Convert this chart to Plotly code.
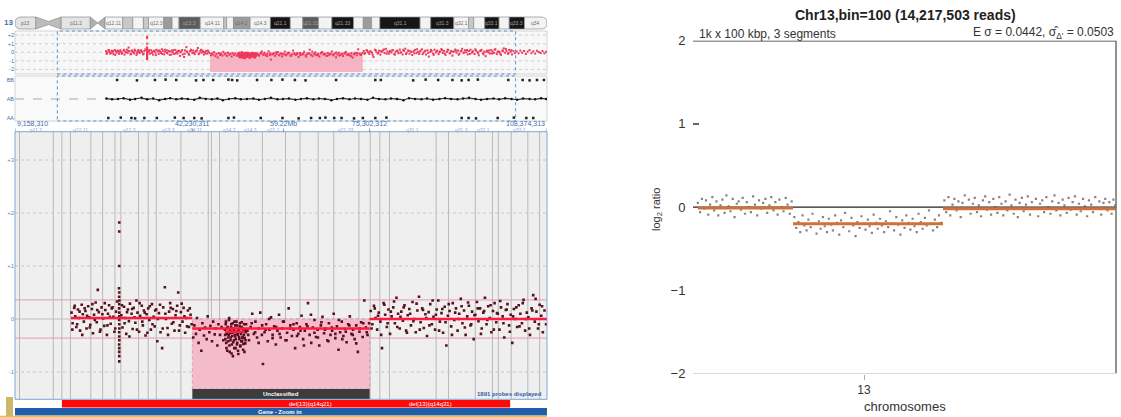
import plotly.graph_objects as go

W, H = 1121, 417


def fx(p):
    return p / W


def fy(p):
    return 1 - p / H


# ---------------- data ----------------
# chromosome 13 cytobands (Mb) and stains
band_name = ["p13", "p12", "p11.2", "p11.1", "q11", "q12.11", "q12.12", "q12.13", "q12.2", "q12.3",
             "q13.1", "q13.2", "q13.3", "q14.11", "q14.12", "q14.13", "q14.2", "q14.3", "q21.1", "q21.2",
             "q21.31", "q21.32", "q21.33", "q22.1", "q22.2", "q22.3", "q31.1", "q31.2", "q31.3", "q32.1",
             "q32.2", "q32.3", "q33.1", "q33.2", "q33.3", "q34"]
band_start = [0.0, 4.5, 10.0, 16.3, 17.9, 19.5, 23.3, 25.5, 27.8, 28.9, 32.2, 34.0, 35.5, 40.1, 45.2, 45.8,
              47.3, 50.9, 55.3, 59.6, 62.3, 65.7, 68.6, 73.3, 75.4, 77.2, 79.0, 87.7, 90.0, 95.0, 98.2, 99.3,
              101.7, 104.8, 107.0, 110.3]
band_end = [4.5, 10.0, 16.3, 17.9, 19.5, 23.3, 25.5, 27.8, 28.9, 32.2, 34.0, 35.5, 40.1, 45.2, 45.8, 47.3,
            50.9, 55.3, 59.6, 62.3, 65.7, 68.6, 73.3, 75.4, 77.2, 79.0, 87.7, 90.0, 95.0, 98.2, 99.3, 101.7,
            104.8, 107.0, 110.3, 115.17]
band_stain = ["gvar", "stalk", "gvar", "acen", "acen", "gneg", "gpos25", "gneg", "gpos25", "gneg",
              "gpos50", "gneg", "gpos75", "gneg", "gpos25", "gneg", "gpos50", "gneg", "gpos100", "gneg",
              "gpos75", "gneg", "gpos100", "gneg", "gpos50", "gneg", "gpos100", "gneg", "gpos100", "gneg",
              "gpos25", "gneg", "gpos100", "gneg", "gpos100", "gneg"]

# zoomed view range (Mb) and ruler labels
view_start, view_end = 9.158310, 108.374313
ruler_pos = [9.158310, 42.230311, 59.22, 75.302312, 108.374313]
ruler_text = ["9,158,310", "42,230,311", "59.22Mb", "75,302,312", "108,374,313"]
ruler_band_pos = [13.15, 21.4, 30.55, 37.8, 42.65, 49.1, 53.1, 57.45, 70.95, 83.35, 92.5, 96.6, 103.25]
ruler_band_txt = ["p11.2", "q12.11", "q12.3", "q13.3", "q14.11", "q14.2", "q14.3", "q21.1", "q21.33",
                  "q31.1", "q31.3", "q32.1", "q33.1"]

# array probes: position (Mb) and log ratio
seg1_pos = [19.7, 19.9, 20.2, 20.4, 20.6, 20.9, 21.1, 21.3, 21.6, 21.8, 22.0, 22.3, 22.5, 22.8, 23.0, 23.2,
            23.5, 23.7, 23.9, 24.2, 24.4, 24.6, 24.8, 25.1, 25.3, 25.6, 25.8, 26.0, 26.3, 26.5, 26.7, 27.0,
            27.2, 27.5, 27.7, 28.0, 28.2,
            29.0, 29.2, 29.5, 29.7, 29.9, 30.2, 30.4, 30.6, 30.9, 31.1, 31.3, 31.6, 31.8, 32.0, 32.3, 32.5,
            32.8, 33.0, 33.2, 33.5, 33.7, 34.0, 34.2, 34.5, 34.7, 35.0, 35.2, 35.5, 35.7, 36.0, 36.3, 36.6,
            36.8, 37.1, 37.3, 37.6, 37.9, 38.1, 38.4, 38.6, 38.9, 39.1, 39.4, 39.6, 39.9, 40.1, 40.4, 40.6,
            40.9, 41.1, 41.4, 41.6, 41.9, 42.1]
seg1_lr = [0.12, -0.08, 0.21, 0.05, -0.15, 0.18, 0.02, -0.22, 0.27, 0.09, -0.05, 0.15, -0.18, 0.24, 0.03,
           -0.11, 0.19, -0.27, 0.08, 0.31, -0.06, 0.55, 0.13, -0.2, 0.22, 0.01, -0.13, 0.17, -0.3, 0.1, 0.26,
           -0.09, 0.2, 0.04, -0.24, 0.14, 0.33,
           0.07, -0.16, 0.23, 0.02, -0.28, 0.18, -0.04, 0.29, 0.1, -0.19, 0.21, -0.07, 0.35, 0.12, -0.24,
           0.06, 0.25, -0.12, 0.16, -0.31, 0.09, 0.2, -0.02, -0.2, 0.28, 0.04, -0.14, 0.18, -0.42, 0.11,
           -0.25, -0.55, 0.22, 0.6, 0.0, -0.17, 0.14, 0.3, -0.09, 0.19, -0.22, 0.07, 0.25, 0.5, -0.12, 0.13,
           -0.05, 0.21, -0.26, 0.02, 0.16, -0.15, 0.08, -0.1]
seg1b_pos = [19.85, 20.3, 20.75, 21.2, 21.7, 22.15, 22.6, 23.1, 23.6, 24.05, 24.5, 25.0, 25.45, 25.9, 26.4,
             26.85, 27.35, 27.85, 29.1, 29.6, 30.05, 30.5, 31.0, 31.45, 31.9, 32.4, 32.9, 33.35, 33.85, 34.3,
             34.8, 35.3, 35.8, 36.2, 36.7, 37.2, 37.7, 38.2, 38.7, 39.25, 39.75, 40.25, 40.75, 41.25, 41.75]
seg1b_lr = [-0.2, 0.25, -0.1, 0.14, -0.3, 0.2, 0.06, -0.16, 0.28, -0.02, 0.17, -0.24, 0.09, 0.3, -0.12,
            0.04, 0.22, -0.18, 0.26, -0.08, 0.13, -0.33, 0.19, 0.03, -0.2, 0.3, -0.05, 0.12, -0.26, 0.24,
            -0.1, 0.16, 0.0, 0.27, -0.18, 0.1, -0.3, 0.21, -0.06, 0.15, -0.22, 0.29, 0.05, -0.14, 0.2]
spike_pos = [28.55, 28.6, 28.58, 28.62, 28.6, 28.57, 28.61, 28.6, 28.59, 28.6, 28.62, 28.58, 28.6, 28.61,
             28.57, 28.6, 28.59, 28.6, 28.6, 28.6, 28.6, 28.6]
spike_lr = [0.58, 0.5, 0.42, 0.35, 0.28, 0.2, 0.12, 0.05, -0.02, -0.1, -0.18, -0.25, -0.33, -0.4, -0.48,
            -0.55, -0.62, -0.7, -0.8, 1.0, 1.65, 1.82]
seg2_pos = [42.4, 42.6, 42.9, 43.1, 43.4, 43.6, 43.9, 44.1, 44.4, 44.6, 44.9, 45.1, 45.4, 45.6, 45.9, 46.1,
            46.4, 46.6, 46.9, 47.1, 47.4, 47.7, 48.0]
seg2_lr = [-0.35, -0.12, -0.28, 0.02, -0.45, -0.2, -0.6, -0.08, -0.31, -0.16, -0.38, 0.05, -0.25, -0.13,
           -0.42, -0.05, -0.29, -0.18, -0.5, -0.1, -0.3, -0.15, -0.4]
cluster_pos = [48.3, 48.4, 48.5, 48.6, 48.7, 48.8, 48.9, 49.0, 49.1, 49.2, 49.3, 49.4, 49.5, 49.6, 49.7,
               49.8, 49.9, 50.0, 50.1, 50.2, 50.3, 50.4, 50.5, 50.6, 50.7, 50.8, 50.9, 51.0, 51.1, 51.2,
               51.3, 51.4, 51.5, 51.6, 51.7, 51.8, 51.9, 52.0, 52.1, 52.2]
cluster_lr = [-0.2, -0.38, -0.05, -0.55, -0.28, -0.15, -0.42, -0.3, 0.02, -0.62, -0.22, -0.35, -0.1, -0.48,
              -0.26, -0.7, -0.18, -0.4, -0.05, -0.33, -0.55, -0.24, -0.12, -0.45, -0.3, -0.66, -0.2, -0.38,
              -0.08, -0.5, -0.28, -0.15, -0.42, -0.34, -0.58, -0.22, -0.1, -0.36, -0.46, -0.25]
cluster2_pos = [48.35, 48.45, 48.55, 48.65, 48.75, 48.85, 48.95, 49.05, 49.15, 49.25, 49.35, 49.45, 49.55,
                49.65, 49.75, 49.85, 49.95, 50.05, 50.15, 50.25, 50.35, 50.45, 50.55, 50.65, 50.75, 50.85,
                50.95, 51.05, 51.15, 51.25, 51.35, 51.45, 51.55, 51.65, 51.75, 51.85, 51.95, 52.05, 52.15,
                52.25]
cluster2_lr = [-0.3, -0.1, -0.45, -0.25, -0.6, -0.18, -0.35, -0.02, -0.5, -0.27, -0.4, -0.15, -0.65, -0.32,
               -0.08, -0.44, -0.22, -0.55, -0.3, -0.12, -0.38, -0.05, -0.48, -0.28, -0.6, -0.2, -0.34,
               -0.14, -0.52, -0.25, -0.42, -0.06, -0.36, -0.18, -0.47, -0.3, -0.62, -0.2, -0.4, -0.1]
seg2b_pos = [52.5, 52.8, 53.1, 53.4, 53.7, 54.0, 54.3, 54.6, 54.9, 55.2, 55.4, 55.7, 56.0, 56.3, 56.6, 56.9,
             57.2, 57.5, 57.8, 58.1, 58.4, 58.7, 59.0, 59.3, 59.6, 59.9, 60.2, 60.5, 60.8, 61.1, 61.4, 61.7,
             62.0, 62.3, 62.6, 62.9, 63.2, 63.5, 63.8, 64.1, 64.4, 64.7, 65.0, 65.3, 65.6, 65.9, 66.2, 66.5,
             66.8, 67.1, 67.4, 67.7, 68.0, 68.3, 68.6, 68.9, 69.2, 69.5, 69.8, 70.1, 70.4, 70.7, 71.0, 71.3,
             71.6, 71.9, 72.2, 72.5, 72.8, 73.1, 73.4, 73.7, 74.0, 74.3, 74.6, 74.9, 75.2]
seg2b_lr = [-0.22, -0.4, -0.15, 0.1, -0.28, -0.05, -0.35, -0.18, 0.12, -0.3, -0.85, -0.25, -0.1, -0.42,
            -0.2, 0.03, -0.3, -0.14, -0.48, -0.22, 0.08, -0.35, -0.18, -0.05, -0.4, -0.26, 0.2, -0.12,
            -0.32, -0.2, -0.55, -0.08, -0.28, -0.15, 0.06, -0.38, -0.22, -0.1, 0.3, -0.3, -0.45, -0.16,
            -0.02, -0.34, -0.2, -0.5, -0.12, 0.04, -0.27, -0.18, -0.4, -0.08, -0.3, -0.22, 0.1, -0.36,
            -0.14, -0.58, -0.25, -0.05, -0.32, -0.19, -0.44, -0.1, 0.05, -0.28, -0.2, -0.38, -0.12, -0.62,
            -0.24, -0.06, -0.34, 0.35, -0.16, -0.3, -0.08]
seg2c_pos = [52.65, 53.3, 53.95, 54.6, 55.25, 55.9, 56.55, 57.2, 57.85, 58.5, 59.15, 59.8, 60.45, 61.1,
             61.75, 62.4, 63.05, 63.7, 64.35, 65.0, 65.65, 66.3, 66.95, 67.6, 68.25, 68.9, 69.55, 70.2,
             70.85, 71.5, 72.15, 72.8, 73.45, 74.1, 74.75]
seg2c_lr = [-0.3, -0.08, -0.25, -0.45, -0.12, -0.2, 0.0, -0.36, -0.15, -0.28, -0.05, -0.4, -0.18, -0.1,
            -0.32, -0.22, -0.5, -0.14, 0.08, -0.26, -0.35, -0.06, -0.2, -0.42, -0.16, -0.28, -0.02, -0.38,
            -0.24, -0.12, -0.3, -0.46, -0.18, -0.08, -0.25]
seg3_pos = [75.5, 75.8, 76.1, 76.4, 76.7, 77.0, 77.3, 77.6, 77.9, 78.2, 78.5, 78.8, 79.1, 79.4, 79.7, 80.0,
            80.3, 80.6, 80.9, 81.2, 81.5, 81.8, 82.1, 82.4, 82.7, 83.0, 83.3, 83.6, 83.9, 84.2, 84.5, 84.8,
            85.1, 85.4, 85.7, 86.0, 86.3, 86.6, 86.9, 87.2, 87.5, 87.8, 88.1, 88.4, 88.7, 89.0, 89.3, 89.6,
            89.9, 90.2, 90.5, 90.8, 91.1, 91.4, 91.7, 92.0, 92.3, 92.6, 92.9, 93.2, 93.5, 93.8, 94.1, 94.4,
            94.7, 95.0, 95.3, 95.6, 95.9, 96.2, 96.5, 96.8, 97.1, 97.4, 97.7, 98.0, 98.3, 98.6, 98.9, 99.2,
            99.5, 99.8, 100.1, 100.4, 100.7, 101.0, 101.3, 101.6, 101.9, 102.2, 102.5, 102.8, 103.1, 103.4,
            103.7, 104.0, 104.3, 104.6, 104.9, 105.2, 105.5, 105.8, 106.1, 106.4, 106.7, 107.0, 107.3,
            107.6, 107.9, 108.2]
seg3_lr = [0.15, -0.1, 0.25, 0.02, -0.2, 0.12, -0.05, -0.55, 0.3, 0.08,
           -0.15, 0.18, -0.28, 0.05, 0.22, -0.08, 0.4, 0.1, -0.18, 0.14,
           -0.03, 0.26, -0.22, 0.07, 0.19, -0.12, 0.32, 0.0, -0.25, 0.16,
           0.42, -0.06, 0.2, -0.17, 0.09, -0.32, 0.13, 0.28, -0.1, 0.04,
           -0.2, 0.18, 0.35, -0.05, 0.11, -0.26, 0.23, -0.5, 0.06, 0.15,
           -0.14, 0.3, -0.02, 0.2, -0.22, 0.1, 0.38, -0.08, 0.16, -0.3,
           0.05, 0.25, -0.12, 0.14, -0.38, 0.08, 0.32, -0.04, 0.2, -0.18,
           0.12, 0.4, -0.1, 0.24, 0.02, -0.25, 0.15, 0.3, -0.06, 0.1,
           -0.2, 0.22, 0.05, -0.35, 0.17, 0.28, -0.12, 0.08, -0.45, 0.19,
           0.0, -0.15, 0.26, 0.1, -0.08, 0.36, -0.22, 0.12, 0.03, -0.3,
           0.2, 0.45, -0.05, 0.14, -0.18, 0.27, 0.06, -0.25, 0.16, -0.1]
seg3b_pos = [75.65, 76.25, 76.85, 77.45, 78.05, 78.65, 79.25, 79.85, 80.45, 81.05, 81.65, 82.25, 82.85,
             83.45, 84.05, 84.65, 85.25, 85.85, 86.45, 87.05, 87.65, 88.25, 88.85, 89.45, 90.05, 90.65,
             91.25, 91.85, 92.45, 93.05, 93.65, 94.25, 94.85, 95.45, 96.05, 96.65, 97.25, 97.85, 98.45,
             99.05, 99.65, 100.25, 100.85, 101.45, 102.05, 102.65, 103.25, 103.85, 104.45, 105.05, 105.65,
             106.25, 106.85, 107.45]
seg3b_lr = [-0.18, 0.2, 0.06, -0.3, 0.27, -0.08, 0.14, 0.33, -0.15, 0.04, 0.22, -0.26, 0.1, -0.04, 0.29,
            -0.2, 0.17, 0.02, -0.12, 0.35, 0.08, -0.22, 0.19, -0.06, 0.28, -0.3, 0.12, 0.0, 0.24, -0.16,
            0.31, -0.1, 0.07, 0.2, -0.28, 0.15, -0.02, 0.26, -0.2, 0.11, 0.34, -0.08, 0.18, -0.24, 0.05,
            0.22, -0.14, 0.3, 0.0, -0.18, 0.16, 0.38, -0.1, 0.24]
tail_pos = [108.6, 109.0, 109.4, 109.8, 110.2, 110.6, 111.0, 111.4, 111.8, 112.2, 112.6, 113.0, 113.4,
            113.8, 114.2, 114.6, 115.0]
tail_lr = [0.1, -0.12, 0.2, -0.05, 0.15, -0.2, 0.08, 0.25, -0.1, 0.12, -0.15, 0.18, 0.02, -0.08, 0.14,
           -0.12, 0.05]

# segmentation calls on the array (start, end, mean log ratio)
lseg_start = [19.6, 42.230311, 48.5, 75.302312]
lseg_end = [42.230311, 75.302312, 52.0, 115.1]
lseg_val = [0.02, -0.18, -0.24, 0.0]
threshold = [0.36, -0.36]

# B-allele frequency rows
ab_pos = [19.8, 21.0, 22.3, 23.5, 24.9, 26.0, 27.4, 28.6, 29.9, 31.2, 32.5, 33.6, 34.9, 36.1, 37.4, 38.8,
          40.0, 41.3, 42.6, 43.8, 45.0, 46.3, 47.7, 48.9, 50.2, 51.6, 52.8, 54.1, 55.4, 56.8, 58.0, 59.3,
          60.7, 61.9, 63.2, 64.6, 65.8, 67.1, 68.5, 69.7, 71.0, 72.4, 73.6, 74.9, 76.3, 77.5, 78.8, 80.2,
          81.4, 82.7, 84.1, 85.3, 86.6, 88.0, 89.2, 90.5, 91.9, 93.1, 94.4, 95.8, 97.0, 98.3, 99.7, 100.9,
          102.2, 103.6, 104.8, 106.1, 107.5, 108.7, 110.0, 111.4, 112.6, 113.9, 115.0]
ab_val = [0.51, 0.49, 0.5, 0.52, 0.48, 0.5, 0.53, 0.49, 0.51, 0.47, 0.5, 0.52, 0.49, 0.51, 0.5, 0.48, 0.53,
          0.5, 0.49, 0.51, 0.47, 0.5, 0.52, 0.49, 0.5, 0.51, 0.48, 0.5, 0.53, 0.49, 0.5, 0.51, 0.48, 0.5,
          0.52, 0.49, 0.51, 0.5, 0.47, 0.5, 0.52, 0.49, 0.51, 0.5, 0.48, 0.53, 0.5, 0.49, 0.51, 0.5, 0.47,
          0.52, 0.5, 0.49, 0.51, 0.48, 0.5, 0.52, 0.5, 0.49, 0.51, 0.53, 0.5, 0.48, 0.5, 0.51, 0.49, 0.52,
          0.5, 0.48, 0.51, 0.5, 0.49, 0.52, 0.5]
bb_pos = [22.1, 26.4, 30.3, 32.6, 34.9, 39.2, 40.8, 42.9, 46.2, 47.0, 48.1, 52.4, 55.5, 57.9, 60.6, 62.9,
          69.5, 78.0, 79.2, 86.2, 88.9, 91.6, 94.7, 96.7, 98.2, 100.2, 106.8, 109.9, 111.4, 113.0, 114.5]
bb_val = [1.0, 0.99, 1.0, 1.01, 1.0, 0.99, 1.0, 1.0, 1.01, 1.0, 0.99, 1.0, 1.0, 1.01, 1.0, 0.99, 1.0, 1.0,
          1.0, 0.99, 1.01, 1.0, 1.0, 0.99, 1.0, 1.01, 1.0, 1.0, 0.99, 1.0, 1.0]
aa_pos = [20.2, 22.9, 25.2, 26.0, 28.0, 30.7, 34.6, 36.5, 38.8, 40.4, 46.2, 47.4, 53.2, 57.9, 61.4, 64.1,
          66.0, 67.2, 69.1, 70.7, 73.4, 75.3, 78.0, 80.4, 96.7, 98.2, 99.8, 104.5, 108.0, 110.7, 112.2]
aa_val = [0.0, 0.01, 0.0, -0.01, 0.0, 0.0, 0.01, 0.0, 0.0, -0.01, 0.0, 0.01, 0.0, 0.0, -0.01, 0.0, 0.0,
          0.01, 0.0, 0.0, -0.01, 0.0, 0.0, 0.01, 0.0, 0.0, -0.01, 0.0, 0.01, 0.0, 0.0]

# sequencing bins (right chart): position (Mb) and log2 ratio
bin1_pos = [21.2, 21.7, 22.1, 22.6, 23.0, 23.5, 23.9, 24.4, 24.8, 25.3, 25.7, 26.2, 26.6, 27.1, 27.5, 28.0,
            28.4, 28.9, 29.3, 29.8, 30.2, 30.7, 31.1, 31.6, 32.0, 32.5, 32.9, 33.4, 33.8, 34.3, 34.7, 35.2,
            35.6, 36.1, 36.5, 37.0, 37.4, 37.9, 38.3, 38.8, 39.2, 39.7, 40.1, 40.6, 41.0, 41.5, 41.9]
bin1_lr = [0.05, -0.06, 0.1, -0.02, 0.08, -0.09, 0.03, 0.12, -0.04, 0.07, -0.1, 0.02, 0.09, -0.07, 0.14,
           0.01, -0.05, 0.1, -0.12, 0.04, 0.07, -0.03, 0.11, -0.08, 0.06, 0.0, -0.06, 0.13, 0.03, -0.1, 0.08,
           -0.02, 0.05, 0.1, -0.07, 0.02, 0.12, -0.04, 0.06, -0.09, 0.09, 0.0, -0.05, 0.11, 0.03, -0.08, 0.07]
bin2_pos = [42.5, 42.9, 43.4, 43.8, 44.3, 44.7, 45.2, 45.6, 46.1, 46.5, 47.0, 47.4, 47.9, 48.3, 48.8, 49.2,
            49.7, 50.1, 50.6, 51.0, 51.5, 51.9, 52.4, 52.8, 53.3, 53.7, 54.2, 54.6, 55.1, 55.5, 56.0, 56.4,
            56.9, 57.3, 57.8, 58.2, 58.7, 59.1, 59.6, 60.0, 60.5, 60.9, 61.4, 61.8, 62.3, 62.7, 63.2, 63.6,
            64.1, 64.5, 65.0, 65.4, 65.9, 66.3, 66.8, 67.2, 67.7, 68.1, 68.6, 69.0, 69.5, 69.9, 70.4, 70.8,
            71.3, 71.7, 72.2, 72.6, 73.1, 73.5, 74.0, 74.4, 74.9]
bin2_lr = [-0.12, -0.25, -0.18, -0.3, -0.1, -0.22, -0.28, -0.15, -0.24, -0.08, -0.2, -0.32, -0.17, -0.26,
           -0.12, -0.23, -0.3, -0.14, -0.21, -0.28, -0.1, -0.19, -0.33, -0.16, -0.24, -0.07, -0.2, -0.29,
           -0.13, -0.22, -0.35, -0.18, -0.25, -0.11, -0.2, -0.27, -0.15, -0.23, -0.31, -0.09, -0.19, -0.26,
           -0.14, -0.22, -0.3, -0.17, -0.24, -0.05, -0.2, -0.28, -0.12, -0.21, -0.33, -0.16, -0.25, -0.1,
           -0.19, -0.27, -0.14, -0.23, -0.3, -0.08, -0.18, -0.26, -0.13, -0.22, -0.04, -0.2, -0.28, -0.15,
           -0.24, -0.1, -0.19]
bin3_pos = [75.6, 76.0, 76.5, 76.9, 77.4, 77.8, 78.3, 78.7, 79.2, 79.6, 80.1, 80.5, 81.0, 81.4, 81.9, 82.3,
            82.8, 83.2, 83.7, 84.1, 84.6, 85.0, 85.5, 85.9, 86.4, 86.8, 87.3, 87.7, 88.2, 88.6, 89.1, 89.5,
            90.0, 90.4, 90.9, 91.3, 91.8, 92.2, 92.7, 93.1, 93.6, 94.0, 94.5, 94.9, 95.4, 95.8, 96.3, 96.7,
            97.2, 97.6, 98.1, 98.5, 99.0, 99.4, 99.9, 100.3, 100.8, 101.2, 101.7, 102.1, 102.6, 103.0, 103.5,
            103.9, 104.4, 104.8, 105.3, 105.7, 106.2, 106.6, 107.1, 107.5, 108.0, 108.4, 108.9, 109.3, 109.8,
            110.2, 110.7, 111.1, 111.6, 112.0, 112.5, 112.9, 113.3]
bin3_lr = [0.08, -0.06, 0.12, -0.1, 0.03, 0.1, -0.04, 0.07, -0.12, 0.05, 0.14, -0.02, 0.09, -0.08, 0.04,
           0.11, -0.06, 0.02, -0.11, 0.08, 0.13, -0.03, 0.06, -0.09, 0.1, 0.0, -0.07, 0.12, 0.04, -0.1, 0.07,
           -0.04, 0.15, 0.02, -0.08, 0.09, -0.12, 0.05, 0.11, -0.05, 0.03, 0.13, -0.09, 0.06, -0.02, 0.1,
           -0.11, 0.04, 0.08, -0.06, 0.12, 0.0, -0.08, 0.07, 0.14, -0.04, 0.05, -0.1, 0.09, 0.02, -0.07, 0.11,
           -0.03, 0.06, 0.13, -0.09, 0.04, -0.05, 0.1, 0.01, -0.11, 0.08, 0.03, -0.06, 0.12, -0.02, 0.07,
           -0.09, 0.05, 0.1, -0.04, 0.06, -0.08, 0.09, 0.02]
rseg_start = [21.2, 42.2, 75.3]
rseg_end = [42.2, 75.3, 113.4]
rseg_val = [-0.01, -0.2, -0.02]
chrom_tick = [57.87]
chrom_label = ["13"]

probe_pos = (seg1_pos + seg1b_pos + spike_pos + seg2_pos + cluster_pos + cluster2_pos + seg2b_pos
             + seg2c_pos + seg3_pos + seg3b_pos + tail_pos)
probe_lr = (seg1_lr + seg1b_lr + spike_lr + seg2_lr + cluster_lr + cluster2_lr + seg2b_lr
            + seg2c_lr + seg3_lr + seg3b_lr + tail_lr)
bin_pos = bin1_pos + bin2_pos + bin3_pos
bin_lr = bin1_lr + bin2_lr + bin3_lr

# ---------------- figure ----------------
LF = "Liberation Sans"
BLUE = "#3d6fae"
fig = go.Figure()

# main (zoomed) array panel
fig.add_trace(go.Scatter(x=probe_pos, y=probe_lr, mode="markers", xaxis="x", yaxis="y",
                         marker=dict(size=2.6, color="#5a0f1e", symbol="square"), hoverinfo="skip"))
for s, e, v in zip(lseg_start, lseg_end, lseg_val):
    fig.add_trace(go.Scatter(x=[s, e], y=[v, v], mode="lines", xaxis="x", yaxis="y",
                             line=dict(color="#ff1a40", width=2.5), hoverinfo="skip"))
# overview panel
fig.add_trace(go.Scatter(x=probe_pos, y=probe_lr, mode="markers", xaxis="x2", yaxis="y2",
                         marker=dict(size=2, color="#f0385a", symbol="square"), hoverinfo="skip"))
# BAF panel
fig.add_trace(go.Scatter(x=ab_pos, y=ab_val, mode="lines+markers", xaxis="x3", yaxis="y3",
                         line=dict(color="#222222", width=1), marker=dict(size=2.5, color="#111111"),
                         hoverinfo="skip"))
fig.add_trace(go.Scatter(x=bb_pos, y=bb_val, mode="markers", xaxis="x3", yaxis="y3",
                         marker=dict(size=2.5, color="#222222", symbol="square"), hoverinfo="skip"))
fig.add_trace(go.Scatter(x=aa_pos, y=aa_val, mode="markers", xaxis="x3", yaxis="y3",
                         marker=dict(size=2.5, color="#222222", symbol="square"), hoverinfo="skip"))
# right chart
fig.add_trace(go.Scatter(x=bin_pos, y=bin_lr, mode="markers", xaxis="x4", yaxis="y4",
                         marker=dict(size=2.2, color="rgba(80,80,80,0.7)", symbol="square"),
                         hoverinfo="skip"))
for s, e, v in zip(rseg_start, rseg_end, rseg_val):
    fig.add_trace(go.Scatter(x=[s, e], y=[v, v], mode="lines", xaxis="x4", yaxis="y4",
                             line=dict(color="#d2703a", width=3), hoverinfo="skip"))

shapes = []
# ---- ideogram ----
stain_col = {"gneg": "#f3f3f3", "gpos25": "#c8c8c8", "gpos50": "#9c9c9c", "gpos75": "#5c5c5c",
             "gpos100": "#161616", "gvar": "#e4e4e4", "stalk": "#bdbdbd", "acen": "#b0b0b0"}
yt, yb, ym = fy(17), fy(29), fy(23)
for i, (nm, s, e, st) in enumerate(zip(band_name, band_start, band_end, band_stain)):
    col = stain_col[st]
    if st == "stalk":
        m = (s + e) / 2
        path = f"M {s},{yt} L {m},{fy(21.5)} L {e},{yt} L {e},{yb} L {m},{fy(24.5)} L {s},{yb} Z"
    elif st == "acen" and nm.startswith("p"):
        path = f"M {s},{yt} L {e},{ym} L {s},{yb} Z"
    elif st == "acen":
        path = f"M {s},{ym} L {e},{yt} L {e},{yb} Z"
    elif i == 0:
        r = 1.3
        path = (f"M {s + r},{yt} L {e},{yt} L {e},{yb} L {s + r},{yb} "
                f"Q {s},{yb} {s},{ym} Q {s},{yt} {s + r},{yt} Z")
    elif i == len(band_name) - 1:
        r = 1.3
        path = (f"M {s},{yt} L {e - r},{yt} Q {e},{yt} {e},{ym} Q {e},{yb} {e - r},{yb} "
                f"L {s},{yb} Z")
    else:
        path = f"M {s},{yt} L {e},{yt} L {e},{yb} L {s},{yb} Z"
    shapes.append(dict(type="path", path=path, xref="x2", yref="paper", fillcolor=col,
                       line=dict(color="#8c8c8c", width=0.7), layer="above"))

# ---- overview panel ----
shapes.append(dict(type="rect", xref="x2 domain", yref="y2 domain", x0=0, x1=1, y0=0, y1=1,
                   fillcolor="#f7f7f7", line=dict(color="#d4d4d4", width=1), layer="below"))
shapes.append(dict(type="rect", xref="x2", yref="y2", x0=42.230311, x1=75.302312, y0=-2.3, y1=0,
                   fillcolor="#f5b3c3", line=dict(width=0), layer="below"))
for g in [2, 1, 0, -1, -2]:
    shapes.append(dict(type="line", xref="x2 domain", yref="y2", x0=0, x1=1, y0=g, y1=g,
                       line=dict(color="#cfcfcf", width=1, dash="dot"), layer="below"))
shapes.append(dict(type="rect", xref="x2", yref="y2 domain", x0=view_start, x1=view_end, y0=0, y1=1,
                   line=dict(color="#5b8fd0", width=1, dash="dot"), layer="above"))
# ---- BAF panel ----
shapes.append(dict(type="rect", xref="x3 domain", yref="y3 domain", x0=0, x1=1, y0=0, y1=1,
                   fillcolor="#f9f9f9", line=dict(color="#d4d4d4", width=1), layer="below"))
shapes.append(dict(type="line", xref="x3 domain", yref="y3", x0=0, x1=1, y0=0.5, y1=0.5,
                   line=dict(color="#c4c4c4", width=1.5, dash="dash"), layer="below"))
shapes.append(dict(type="rect", xref="x3", yref="y3 domain", x0=view_start, x1=view_end, y0=0, y1=1,
                   line=dict(color="#5b8fd0", width=1, dash="dot"), layer="above"))

# ---- main panel ----
shapes.append(dict(type="rect", xref="x domain", yref="y domain", x0=0, x1=1, y0=0, y1=1,
                   fillcolor="#efefef", line=dict(width=0), layer="below"))
shapes.append(dict(type="rect", xref="x", yref="y", x0=42.230311, x1=75.302312, y0=-1.32, y1=0,
                   fillcolor="#f4bccb", line=dict(color="#d98a9c", width=0.8, dash="dot"), layer="below"))
for b in band_start:
    if view_start < b < view_end:
        shapes.append(dict(type="line", xref="x", yref="y domain", x0=b, x1=b, y0=0, y1=1,
                           line=dict(color="#b9b9b9", width=1), layer="below"))
for g in [3, 2, 1, -1]:
    shapes.append(dict(type="line", xref="x domain", yref="y", x0=0, x1=1, y0=g, y1=g,
                       line=dict(color="#c8c8c8", width=1, dash="dot"), layer="below"))
shapes.append(dict(type="line", xref="x domain", yref="y", x0=0, x1=1, y0=0, y1=0,
                   line=dict(color="#bdbdbd", width=1), layer="below"))
for t in threshold:
    shapes.append(dict(type="line", xref="x domain", yref="y", x0=0, x1=1, y0=t, y1=t,
                       line=dict(color="#e79aab", width=1), layer="below"))
shapes.append(dict(type="rect", xref="x", yref="y", x0=42.230311, x1=75.302312, y0=-1.515, y1=-1.32,
                   fillcolor="#3c3c3c", line=dict(width=0), layer="above"))
shapes.append(dict(type="rect", xref="x domain", yref="y domain", x0=0, x1=1, y0=0, y1=1,
                   line=dict(color="#7ea6d6", width=1), layer="above"))
for p in ruler_pos:
    shapes.append(dict(type="line", xref="x", yref="paper", x0=p, x1=p, y0=fy(128.5), y1=fy(132),
                       line=dict(color="#6a96cc", width=1)))
# bottom tracks
shapes.append(dict(type="rect", xref="x", yref="paper", x0=17.9, x1=101.5, y0=fy(407.5), y1=fy(400),
                   fillcolor="#ff0a0a", line=dict(width=0)))
shapes.append(dict(type="rect", xref="paper", yref="paper", x0=fx(15), x1=fx(547), y0=fy(415.5),
                   y1=fy(408), fillcolor="#1f5ea8", line=dict(width=0)))
shapes.append(dict(type="rect", xref="paper", yref="paper", x0=fx(0), x1=fx(547), y0=fy(417),
                   y1=fy(415.7), fillcolor="#f0c419", line=dict(width=0)))
shapes.append(dict(type="rect", xref="paper", yref="paper", x0=fx(6), x1=fx(13), y0=fy(416),
                   y1=fy(397), fillcolor="#cdb86a", line=dict(width=0)))

# ---- right chart frame ----
shapes.append(dict(type="line", xref="x4 domain", yref="y4", x0=0, x1=1, y0=2, y1=2,
                   line=dict(color="#333333", width=1.5)))
shapes.append(dict(type="line", xref="x4 domain", yref="y4", x0=1, x1=1, y0=-2, y1=2,
                   line=dict(color="#6e6e6e", width=1.5)))
shapes.append(dict(type="line", xref="x4 domain", yref="y4", x0=0, x1=1, y0=-2, y1=-2,
                   line=dict(color="#b4b4b4", width=1)))
shapes.append(dict(type="line", xref="x4 domain", yref="y4", x0=0, x1=1, y0=0, y1=0,
                   line=dict(color="#222222", width=1.3), layer="below"))
shapes.append(dict(type="line", xref="paper", yref="y4", x0=fx(693), x1=fx(699), y0=1, y1=1,
                   line=dict(color="#333333", width=1.5)))

fig.update_layout(shapes=shapes)

ann = []
ann.append(dict(text="<b>13</b>", x=fx(2), y=fy(22), xref="paper", yref="paper", xanchor="left",
                showarrow=False, font=dict(family=LF, size=8, color=BLUE)))
for nm, s, e, st in zip(band_name, band_start, band_end, band_stain):
    if e - s >= 3.0 and st not in ("stalk", "acen"):
        c = "#a0a0a0" if st in ("gpos75", "gpos100") else "#6e6e6e"
        ann.append(dict(text=nm, x=(s + e) / 2, y=fy(23), xref="x2", yref="paper", showarrow=False,
                        font=dict(family=LF, size=5, color=c)))
for i, (p, t) in enumerate(zip(ruler_pos, ruler_text)):
    xa = "left" if i == 0 else ("right" if i == len(ruler_pos) - 1 else "center")
    ann.append(dict(text=t, x=p, y=fy(124), xref="x", yref="paper", xanchor=xa, showarrow=False,
                    font=dict(family=LF, size=7, color=BLUE)))
for p, t in zip(ruler_band_pos, ruler_band_txt):
    ann.append(dict(text=t, x=p, y=fy(129.5), xref="x", yref="paper", showarrow=False,
                    font=dict(family=LF, size=5, color="#8ea6c6")))
ann.append(dict(text="<b>Unclassified</b>", x=(42.230311 + 75.302312) / 2, y=-1.42, xref="x", yref="y",
                showarrow=False, font=dict(family=LF, size=6, color="white")))
ann.append(dict(text="<b>1891 probes displayed</b>", x=fx(544), y=fy(394), xref="paper", yref="paper",
                xanchor="right", showarrow=False, font=dict(family=LF, size=6, color="#2a62a8")))
ann.append(dict(text="del(13)(q14q21)", x=64.2, y=fy(403.8), xref="x", yref="paper", showarrow=False,
                font=dict(family=LF, size=6, color="white")))
ann.append(dict(text="del(13)(q14q31)", x=86.7, y=fy(403.8), xref="x", yref="paper", showarrow=False,
                font=dict(family=LF, size=6, color="white")))
ann.append(dict(text="<b>Gene - Zoom in</b>", x=fx(280), y=fy(411.8), xref="paper", yref="paper",
                showarrow=False, font=dict(family=LF, size=6, color="white")))
# right chart texts
ann.append(dict(text="<b>Chr13,bin=100 (14,217,503 reads)</b>", x=fx(905), y=fy(15), xref="paper",
                yref="paper", showarrow=False, font=dict(family=LF, size=14, color="#222222")))
ann.append(dict(text="1k x 100 kbp, 3 segments", x=fx(697), y=fy(34), xref="paper", yref="paper",
                xanchor="left", showarrow=False, font=dict(family=LF, size=12, color="#333333")))
ann.append(dict(text="E σ = 0.0442, σ̂<sub>Δ'</sub> = 0.0503", x=fx(1116), y=fy(33), xref="paper",
                yref="paper", xanchor="right", showarrow=False, font=dict(family=LF, size=12, color="#333333")))
ann.append(dict(text="log<sub>2</sub> ratio", x=fx(657), y=fy(210), xref="paper", yref="paper",
                textangle=-90, showarrow=False, font=dict(family=LF, size=11, color="#333333")))
ann.append(dict(text="chromosomes", x=fx(905), y=fy(406), xref="paper", yref="paper", showarrow=False,
                font=dict(family=LF, size=13, color="#333333")))
for a in ann:
    a.setdefault("xanchor", "center")
    a.setdefault("yanchor", "middle")
fig.update_layout(annotations=ann)

noax = dict(showgrid=False, zeroline=False, showline=False, showticklabels=False, ticks="",
            automargin=False)
fig.update_layout(
    width=W, height=H, margin=dict(l=0, r=0, t=0, b=0, pad=0, autoexpand=False), paper_bgcolor="white",
    plot_bgcolor="rgba(0,0,0,0)", showlegend=False,
    xaxis=dict(domain=[fx(15), fx(547)], range=[view_start, view_end], anchor="y", **noax),
    yaxis=dict(domain=[fy(399.3), fy(131.7)], range=[-1.515, 3.534], anchor="x", showgrid=False,
               zeroline=False, showline=False, automargin=False, tickvals=[3, 2, 1, 0, -1],
               ticktext=["+3", "+2", "+1", "0", "-1"], tickfont=dict(family=LF, size=6, color="#6a8ab8")),
    xaxis2=dict(domain=[fx(15), fx(547)], range=[0, 115.17], anchor="y2", **noax),
    yaxis2=dict(domain=[fy(74), fy(31)], range=[-2.53, 2.48], anchor="x2", showgrid=False, zeroline=False,
                showline=False, automargin=False, tickvals=[2, 1, 0, -1, -2],
                ticktext=["+2", "+1", "0", "-1", "-2"], tickfont=dict(family=LF, size=5.5, color=BLUE)),
    xaxis3=dict(domain=[fx(15), fx(547)], range=[0, 115.17], anchor="y3", **noax),
    yaxis3=dict(domain=[fy(121), fy(76)], range=[-0.079, 1.105], anchor="x3", showgrid=False,
                zeroline=False, showline=False, automargin=False, tickvals=[1, 0.5, 0],
                ticktext=["BB", "AB", "AA"], tickfont=dict(family=LF, size=5.5, color=BLUE)),
    xaxis4=dict(domain=[fx(693), fx(1116)], range=[20.13, 113.47], anchor="y4", showgrid=False,
                zeroline=False, showline=False, automargin=False, tickvals=chrom_tick, ticktext=chrom_label,
                ticks="outside", ticklen=5, tickcolor="#aaaaaa",
                tickfont=dict(family=LF, size=12, color="#333333")),
    yaxis4=dict(domain=[fy(373.5), fy(40.7)], range=[-2, 2], anchor="x4", showgrid=False, zeroline=False,
                showline=False, automargin=False, tickvals=[2, 1, 0, -1, -2],
                ticktext=["2", "1", "0", "−1", "−2"], ticks="outside", ticklen=4,
                tickcolor="rgba(0,0,0,0)", tickfont=dict(family=LF, size=13, color="#333333")),
)

fig.write_html("out.html")
